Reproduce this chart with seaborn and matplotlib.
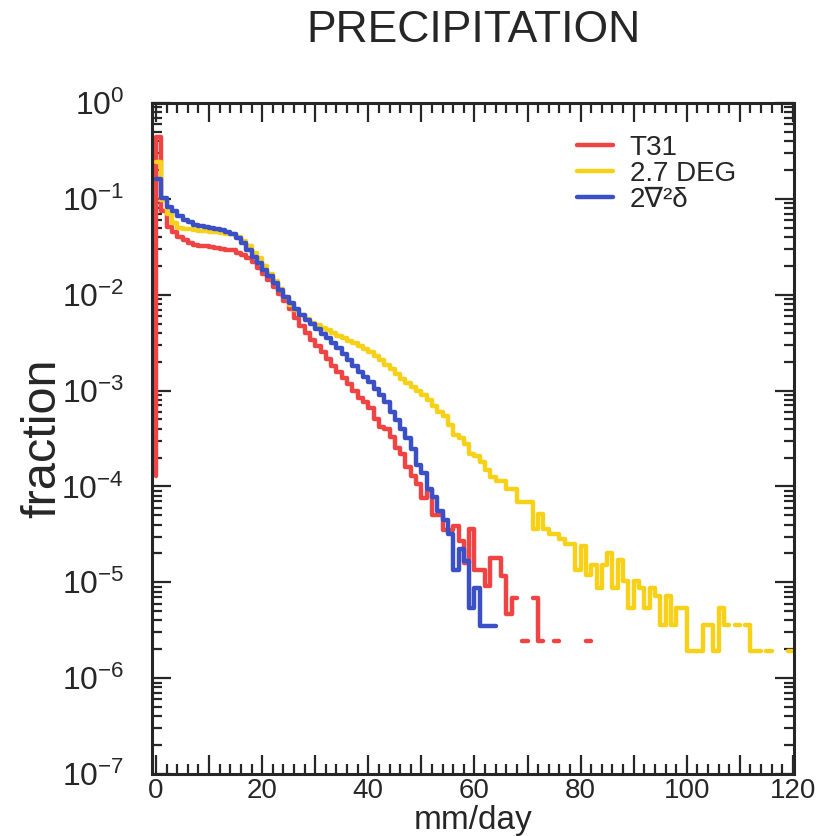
import numpy as np
import pandas as pd
import matplotlib
matplotlib.use('Agg')
import matplotlib.pyplot as plt
from matplotlib.lines import Line2D
from matplotlib.ticker import MultipleLocator, LogLocator, FuncFormatter, NullFormatter
import seaborn as sns

nan = np.nan

# series names and colours
models = ['T31', '2.7 DEG', '2\u2207\u00b2\u03b4']
colors = ['#ef4444', '#f7d117', '#3b50c4']

# histogram bins are 1 mm/day wide, starting at 0
bin_width = 1.0

# T31: the red line starts from this value at 0 mm/day
t31_start = 1.3e-4
t31 = [0.44, 7.4e-2, 5.1e-2, 4.5e-2, 4.0e-2, 3.7e-2, 3.5e-2, 3.3e-2, 3.2e-2, 3.2e-2,
       3.15e-2, 3.1e-2, 3.0e-2, 2.95e-2, 2.9e-2, 2.75e-2, 2.6e-2, 2.4e-2, 2.2e-2, 1.9e-2,
       1.66e-2, 1.41e-2, 1.2e-2, 1.02e-2, 8.7e-3, 7.1e-3, 5.75e-3, 4.7e-3, 4.0e-3, 3.4e-3,
       2.9e-3, 2.5e-3, 2.14e-3, 1.82e-3, 1.55e-3, 1.35e-3, 1.17e-3, 1.0e-3, 8.3e-4, 7.6e-4,
       6.6e-4, 5.0e-4, 4.2e-4, 4.0e-4, 3.3e-4, 2.5e-4, 2.2e-4, 1.6e-4, 1.3e-4, 1.07e-4,
       7.6e-5, 9.1e-5, 5.0e-5, 5.0e-5, 3.5e-5, 3.5e-5, 3.9e-5, 2.7e-5, 1.6e-5, 3.6e-5,
       1.35e-5, 1.35e-5, 9.1e-6, 1.8e-5, 1.8e-5, 1.17e-5, 4.7e-6, 6.9e-6, nan, 2.45e-6,
       nan, 6.9e-6, 2.45e-6, nan, nan, 2.45e-6, nan, nan, nan, nan,
       nan, 2.45e-6]

# 2.7 DEG
deg27 = [0.24, 9.8e-2, 6.9e-2, 5.6e-2, 5.0e-2, 4.8e-2, 4.8e-2, 4.7e-2, 4.6e-2, 4.6e-2,
         4.5e-2, 4.5e-2, 4.4e-2, 4.35e-2, 4.3e-2, 4.0e-2, 3.6e-2, 3.2e-2, 2.75e-2, 2.4e-2,
         2.0e-2, 1.66e-2, 1.38e-2, 1.15e-2, 9.5e-3, 7.9e-3, 6.9e-3, 6.2e-3, 5.6e-3, 5.1e-3,
         4.8e-3, 4.5e-3, 4.3e-3, 4.0e-3, 3.7e-3, 3.55e-3, 3.3e-3, 3.1e-3, 2.9e-3, 2.7e-3,
         2.5e-3, 2.3e-3, 2.1e-3, 1.86e-3, 1.66e-3, 1.48e-3, 1.32e-3, 1.2e-3, 1.1e-3, 1.0e-3,
         8.9e-4, 7.9e-4, 6.9e-4, 6.0e-4, 5.4e-4, 4.4e-4, 3.4e-4, 3.2e-4, 2.75e-4, 2.2e-4,
         2.1e-4, 1.78e-4, 1.48e-4, 1.26e-4, 1.15e-4, 1.15e-4, 9.5e-5, 9.5e-5, 6.9e-5, 6.9e-5,
         6.8e-5, 3.6e-5, 5.2e-5, 3.6e-5, 3.2e-5, 3.2e-5, 2.8e-5, 2.5e-5, 2.5e-5, 1.35e-5,
         2.4e-5, 1.2e-5, 1.5e-5, 8.7e-6, 1.5e-5, 2.0e-5, 8.7e-6, 1.7e-5, 1.02e-5, 5.4e-6,
         1.02e-5, 8.7e-6, 5.4e-6, 8.7e-6, 7.2e-6, 3.6e-6, 7.2e-6, 3.6e-6, 5.4e-6, 5.4e-6,
         1.9e-6, 1.9e-6, 1.9e-6, 3.6e-6, 3.6e-6, 1.9e-6, 5.4e-6, 3.6e-6, nan, 3.6e-6,
         nan, 3.6e-6, 1.9e-6, 1.9e-6, nan, 1.9e-6, nan, nan, nan, 1.9e-6]

# 2 nabla^2 delta
nabla = [0.16, 0.102, 8.3e-2, 7.4e-2, 6.6e-2, 6.0e-2, 5.75e-2, 5.4e-2, 5.25e-2, 5.1e-2,
         5.0e-2, 4.9e-2, 4.7e-2, 4.5e-2, 4.3e-2, 3.9e-2, 3.5e-2, 2.95e-2, 2.5e-2, 2.14e-2,
         1.82e-2, 1.55e-2, 1.32e-2, 1.12e-2, 9.5e-3, 8.1e-3, 7.1e-3, 6.2e-3, 5.5e-3, 4.9e-3,
         4.4e-3, 3.9e-3, 3.5e-3, 3.1e-3, 2.75e-3, 2.4e-3, 2.1e-3, 1.82e-3, 1.58e-3, 1.38e-3,
         1.23e-3, 1.05e-3, 8.9e-4, 7.6e-4, 6.0e-4, 4.9e-4, 4.0e-4, 3.2e-4, 2.45e-4, 1.66e-4,
         1.38e-4, 9.5e-5, 7.8e-5, 5.5e-5, 4.5e-5, 3.2e-5, 1.35e-5, 2.2e-5, 1.66e-5, 5.4e-6,
         8.7e-6, 3.5e-6, 3.5e-6, 3.5e-6]


def step_frame(vals, name, start=None):
    # turn histogram values into step outline points, a new unit after each empty bin
    rows = []
    seg = 0
    if start is not None:
        rows.append((0.0, start, seg))
    for i, v in enumerate(vals):
        if np.isnan(v):
            seg += 1
            continue
        rows.append((i * bin_width, v, seg))
        rows.append(((i + 1) * bin_width, v, seg))
    df = pd.DataFrame(rows, columns=['mm', 'frac', 'seg'])
    df['model'] = name
    df['unit'] = name + '_' + df['seg'].astype(str)
    return df


df = pd.concat([step_frame(t31, models[0], t31_start),
                step_frame(deg27, models[1]),
                step_frame(nabla, models[2])], ignore_index=True)

sns.set_style('ticks')
plt.rcParams['font.family'] = ['Liberation Sans', 'DejaVu Sans']
plt.rcParams['mathtext.fontset'] = 'custom'
plt.rcParams['mathtext.rm'] = 'Liberation Sans'
ink = '#262626'

fig = plt.figure(figsize=(8.18, 8.36), dpi=100)
ax = fig.add_axes([152 / 818, 1 - 774 / 836, (794 - 152) / 818, (774 - 103) / 836])

sns.lineplot(data=df, x='mm', y='frac', hue='model', units='unit', estimator=None,
             sort=False, hue_order=models, palette=dict(zip(models, colors)),
             linewidth=3.2, legend=False, ax=ax)

ax.set_yscale('log')
ax.set_xlim(-0.75, 120.2)
ax.set_ylim(1e-7, 1)

ax.xaxis.set_major_locator(MultipleLocator(10))
ax.xaxis.set_minor_locator(MultipleLocator(2))
ax.xaxis.set_major_formatter(FuncFormatter(lambda v, p: f'{v:.0f}' if round(v) % 20 == 0 else ''))
ax.set_yticks(10.0 ** np.arange(-7, 1))
ax.yaxis.set_minor_locator(LogLocator(base=10, subs=np.arange(2, 10), numticks=20))
ax.yaxis.set_minor_formatter(NullFormatter())

ax.tick_params(which='both', direction='in', top=True, right=True, width=1.6, color=ink)
ax.tick_params(which='major', length=14)
ax.tick_params(which='minor', length=7)
ax.tick_params(axis='x', which='major', labelsize=20, pad=3, labelcolor=ink)
ax.tick_params(axis='y', which='major', labelsize=23, pad=20, labelcolor=ink)
for s in ax.spines.values():
    s.set_linewidth(2.2)
    s.set_color(ink)

ax.set_xlabel('mm/day', fontsize=24, color=ink)
ax.xaxis.label.set_va('baseline')
ax.xaxis.set_label_coords(0.5, (774 - 829.5) / 671)
ax.set_ylabel('fraction', fontsize=35, color=ink)
ax.yaxis.set_label_coords(-0.135, 0.5)

fig.text(473 / 818, 1 - 30 / 836, 'PRECIPITATION', ha='center', va='center',
         fontsize=32, color=ink)

handles = [Line2D([], [], color=c, lw=3.2) for c in colors]
ax.legend(handles, models, loc='upper left', bbox_to_anchor=((577 - 152) / 642, (774 - 135) / 671),
          frameon=False, fontsize=20, labelspacing=0.0, handlelength=1.3, handletextpad=0.6,
          borderpad=0, borderaxespad=0, labelcolor=ink)

fig.savefig('out.png', dpi=100)
